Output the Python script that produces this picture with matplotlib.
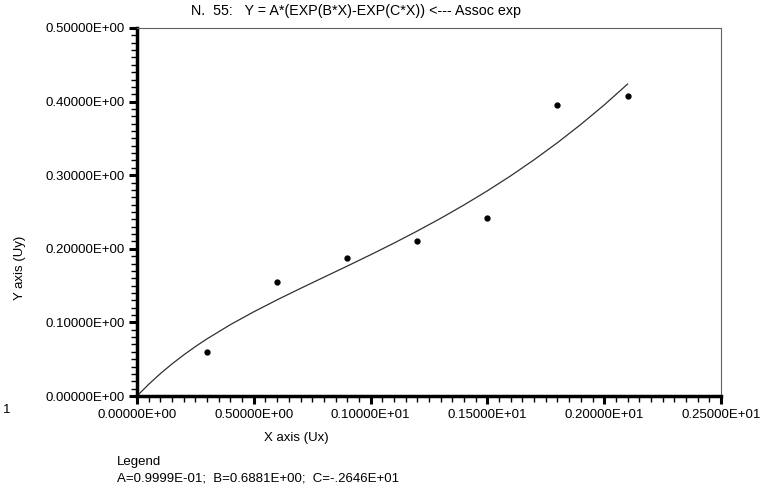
import math
import matplotlib
matplotlib.use("Agg")
import matplotlib.pyplot as plt
from matplotlib.ticker import MultipleLocator

# observed points
x_pts = [0.3, 0.6, 0.9, 1.2, 1.5, 1.8, 2.1]
y_pts = [0.060, 0.155, 0.187, 0.210, 0.242, 0.395, 0.408]

# fitted curve
x_fit = [0.0, 0.05, 0.1, 0.15, 0.2, 0.25, 0.3, 0.4, 0.5, 0.6, 0.7, 0.8, 0.9, 1.0,
         1.1, 1.2, 1.3, 1.4, 1.5, 1.6, 1.7, 1.8, 1.9, 2.0, 2.1]
y_fit = [0.0, 0.0159, 0.0304, 0.0436, 0.0558, 0.0672, 0.0777, 0.0970, 0.1144,
         0.1307, 0.1462, 0.1614, 0.1765, 0.1919, 0.2077, 0.2242, 0.2414, 0.2596,
         0.2788, 0.2992, 0.3210, 0.3442, 0.3690, 0.3954, 0.4238]

title = "N.  55:   Y = A*(EXP(B*X)-EXP(C*X)) <--- Assoc exp"
legend_lines = ["Legend", "A=0.9999E-01;  B=0.6881E+00;  C=-.2646E+01"]

plt.rcParams['font.family'] = ['Liberation Sans', 'DejaVu Sans']
fs = 9.5

fig = plt.figure(figsize=(7.63, 4.90), dpi=100)
ax = fig.add_axes([137 / 763, 1 - 396 / 490, 584 / 763, 368 / 490])

ax.plot(x_fit, y_fit, color='#303030', lw=0.9)
ax.plot(x_pts, y_pts, 'o', color='black', ms=3.5)

ax.set_xlim(0, 0.25e1)
ax.set_ylim(0, 0.5)


def efmt(v, pos=None):
    if abs(v) < 1e-12:
        return "0.00000E+00"
    e = int(math.floor(math.log10(abs(v)))) + 1
    m = v / 10 ** e
    return "%.5fE%+03d" % (m, e)


ax.xaxis.set_major_locator(MultipleLocator(0.5))
ax.xaxis.set_minor_locator(MultipleLocator(0.05))
ax.yaxis.set_major_locator(MultipleLocator(0.1))
ax.yaxis.set_minor_locator(MultipleLocator(0.01))
ax.xaxis.set_major_formatter(plt.FuncFormatter(efmt))
ax.yaxis.set_major_formatter(plt.FuncFormatter(efmt))

ax.tick_params(which='major', direction='out', length=6, width=2.2, labelsize=fs, pad=3)
ax.tick_params(which='minor', direction='out', length=4, width=1)

for s in ['left', 'bottom']:
    ax.spines[s].set_linewidth(2.5)
for s in ['top', 'right']:
    ax.spines[s].set_linewidth(0.8)
    ax.spines[s].set_color('#606060')

fig.text(191 / 763, 1 - 11 / 490, title, ha='left', va='center', fontsize=10.3)
fig.text(296 / 763, 1 - 438 / 490, "X axis (Ux)", ha='center', va='center', fontsize=fs)
fig.text(20 / 763, 1 - 268 / 490, "Y axis (Uy)", ha='center', va='center',
         rotation=90, fontsize=fs)
fig.text(7 / 763, 1 - 410 / 490, "1", ha='center', va='center', fontsize=fs)
fig.text(117 / 763, 1 - 462 / 490, legend_lines[0], ha='left', va='center', fontsize=fs)
fig.text(117 / 763, 1 - 478 / 490, legend_lines[1], ha='left', va='center', fontsize=fs)

fig.savefig("out.png", dpi=100)
